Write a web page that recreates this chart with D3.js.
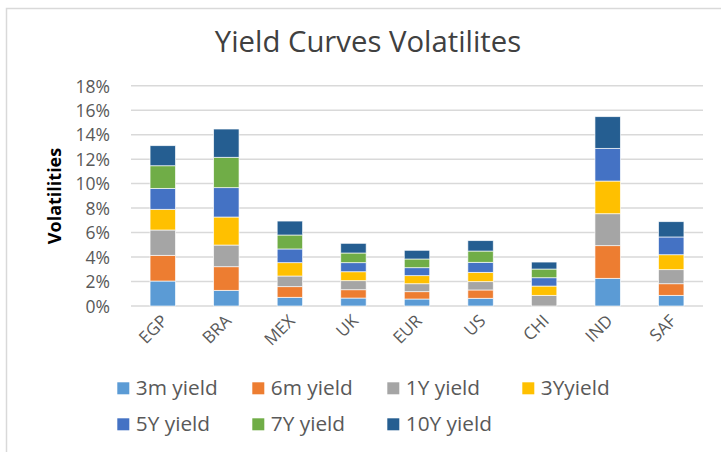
<!DOCTYPE html>
<html>
<head>
<meta charset="utf-8">
<script src="https://cdn.jsdelivr.net/npm/d3@7"></script>
<style>
  html, body { margin: 0; padding: 0; background: #fff; }
  svg { display: block; font-family: "Open Sans", sans-serif; }
</style>
</head>
<body>
<svg id="chart" width="721" height="452"></svg>
<script>
const categories = ["EGP", "BRA", "MEX", "UK", "EUR", "US", "CHI", "IND", "SAF"];
const seriesNames = ["3m yield", "6m yield", "1Y yield", "3Yyield", "5Y yield", "7Y yield", "10Y yield"];
const seriesKeys = ["m3", "m6", "y1", "y3", "y5", "y7", "y10"];
const seriesColors = ["#5B9BD5", "#ED7D31", "#A5A5A5", "#FFC000", "#4472C4", "#70AD47", "#255E91"];
// values in percent
const m3  = [2.04, 1.28, 0.71, 0.65, 0.57, 0.63, 0.00, 2.26, 0.87];
const m6  = [2.10, 1.93, 0.87, 0.68, 0.60, 0.68, 0.00, 2.67, 0.95];
const y1  = [2.07, 1.77, 0.87, 0.74, 0.65, 0.68, 0.87, 2.61, 1.15];
const y3  = [1.69, 2.29, 1.09, 0.73, 0.66, 0.76, 0.76, 2.67, 1.22];
const y5  = [1.71, 2.40, 1.12, 0.74, 0.65, 0.82, 0.68, 2.67, 1.45];
const y7  = [1.85, 2.48, 1.14, 0.79, 0.71, 0.92, 0.71, 0.00, 0.00];
const y10 = [1.64, 2.31, 1.14, 0.79, 0.71, 0.85, 0.57, 2.59, 1.25];
const yTicks = [0, 2, 4, 6, 8, 10, 12, 14, 16, 18];

const seriesValues = [m3, m6, y1, y3, y5, y7, y10];
const table = categories.map((c, i) => {
  const row = { cat: c };
  seriesKeys.forEach((k, j) => row[k] = seriesValues[j][i]);
  return row;
});

const svg = d3.select("#chart");

// outer frame
svg.append("rect").attr("x", 6.5).attr("y", 8.5).attr("width", 740).attr("height", 460)
  .attr("fill", "none").attr("stroke", "#d9d9d9").attr("stroke-width", 1.5);

const x = d3.scaleBand().domain(categories).range([131, 703]).paddingInner(0.6).paddingOuter(0.3);
const y = d3.scaleLinear().domain([0, 18]).range([306, 85.7]);

// gridlines
svg.append("g").selectAll("line").data(yTicks).join("line")
  .attr("x1", 131).attr("x2", 703)
  .attr("y1", d => y(d)).attr("y2", d => y(d))
  .attr("stroke", "#d9d9d9").attr("stroke-width", 1.5);

// y axis labels
const yAxis = d3.axisLeft(y).tickValues(yTicks).tickFormat(d => d + "%").tickSize(0).tickPadding(0);
const yg = svg.append("g").attr("transform", "translate(110,0)").call(yAxis);
yg.select(".domain").remove();
yg.selectAll("text").attr("font-size", 17.5).attr("fill", "#595959")
  .attr("font-family", "Open Sans, sans-serif").attr("dy", "0.36em");

// stacked bars
const stack = d3.stack().keys(seriesKeys);
const stacked = stack(table);
svg.append("g").selectAll("g").data(stacked).join("g")
  .attr("fill", (d, i) => seriesColors[i])
  .selectAll("rect").data(d => d).join("rect")
  .attr("x", d => x(d.data.cat))
  .attr("width", x.bandwidth())
  .attr("y", d => y(d[1]))
  .attr("height", d => Math.max(0, y(d[0]) - y(d[1])))
  .attr("stroke", "#ffffff").attr("stroke-width", 0.8).attr("stroke-opacity", 0.8);

// x axis labels
const xAxis = d3.axisBottom(x).tickSize(0).tickPadding(0);
const xg = svg.append("g").attr("transform", "translate(0,306)").call(xAxis);
xg.select(".domain").remove();
xg.selectAll("text")
  .attr("font-size", 17).attr("fill", "#595959").attr("font-family", "Open Sans, sans-serif")
  .attr("text-anchor", "end")
  .attr("y", 0).attr("dy", 0)
  .attr("transform", "translate(6,16) rotate(-45)");

// title
svg.append("text").attr("x", 368).attr("y", 52).attr("text-anchor", "middle")
  .attr("font-size", 29.3).attr("fill", "#404040").text("Yield Curves Volatilites");

// y axis title
svg.append("text").attr("transform", "translate(60.5,196) rotate(-90)")
  .attr("text-anchor", "middle").attr("font-size", 18).attr("font-weight", "bold")
  .attr("fill", "#000").text("Volatilities");

// legend
const legendX = [117.3, 252.3, 387.3, 522.3];
const legendY = [382.3, 418.3];
const lg = svg.append("g").selectAll("g").data(seriesNames).join("g")
  .attr("transform", (d, i) => `translate(${legendX[i % 4]},${legendY[Math.floor(i / 4)]})`);
lg.append("rect").attr("width", 12).attr("height", 12).attr("fill", (d, i) => seriesColors[i]);
lg.append("text").attr("x", 18.5).attr("y", 12.8).attr("font-size", 20.8)
  .attr("fill", "#595959").text(d => d);
</script>
</body>
</html>
